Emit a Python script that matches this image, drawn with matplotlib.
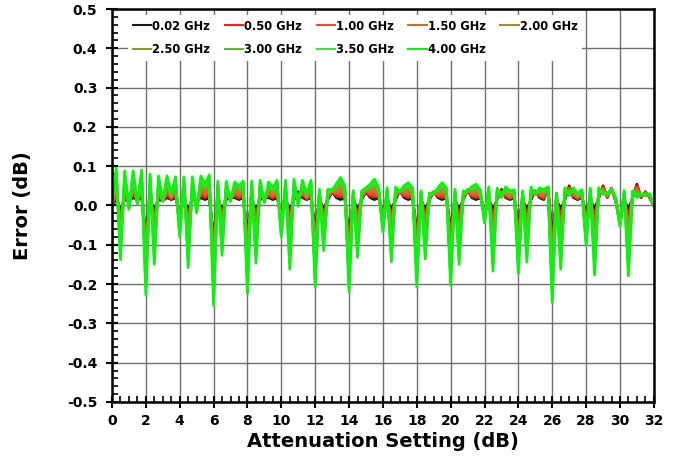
import numpy as np
import matplotlib
matplotlib.use("Agg")
import matplotlib.pyplot as plt
from matplotlib.ticker import MultipleLocator, FormatStrFormatter

plt.rcParams['font.family'] = ['DejaVu Sans']
plt.rcParams['font.weight'] = 'bold'
plt.rcParams['axes.unicode_minus'] = False

# attenuation states, 0.25 dB LSB
atten = np.linspace(0, 32, 129)

# attenuation error per state, in millidB
err_002 = [0, 15, -10, 15, 12, 20, 15, 20,
           -70, 15, -10, 15, 12, 20, 15, 20,
           -20, 15, -10, 15, 12, 20, 15, 20,
           -80, 15, -10, 15, 20, 20, 15, 20,
           -70, 15, -10, 15, 20, 20, 15, 20,
           -20, 15, -10, 15, 35, 20, 15, 20,
           -60, 15, -10, 15, 35, 20, 15, 20,
           -80, 15, -10, 15, 35, 20, 15, 20,
           -19, 15, -10, 15, 38, 20, 15, 20,
           -66, 15, -10, 15, 35, 20, 15, 20,
           -60, 15, -10, 15, 40, 20, 15, 20,
           -10, 15, -10, 15, 41, 20, 15, 20,
           -50, 15, -10, 15, 37, 20, 15, 45,
           -80, 15, -10, 15, 50, 20, 15, 20,
           -20, 15, -10, 20, 50, 20, 44, 10,
           -40, 15, -10, 20, 54, 20, 35, 20,
           0]
err_050 = [1, 25, -26, 24, 9, 29, 14, 29,
           -90, 23, -28, 23, 12, 27, 17, 27,
           -28, 22, -29, 22, 8, 27, 20, 27,
           -102, 21, -25, 21, 19, 25, 19, 25,
           -89, 21, -27, 21, 18, 25, 19, 26,
           -28, 21, -29, 22, 30, 26, 17, 26,
           -78, 18, -23, 18, 36, 24, 22, 24,
           -98, 18, -25, 18, 36, 24, 22, 23,
           -25, 19, -27, 19, 38, 24, 20, 23,
           -84, 18, -26, 17, 34, 23, 20, 23,
           -78, 18, -28, 18, 39, 24, 20, 23,
           -14, 19, -30, 19, 38, 23, 18, 23,
           -65, 18, -27, 19, 36, 23, 18, 45,
           -101, 17, -29, 19, 47, 23, 17, 23,
           -30, 19, -31, 23, 47, 21, 44, 11,
           -42, 18, -31, 22, 50, 21, 34, 21,
           0]
err_100 = [1, 35, -42, 33, 7, 37, 12, 38,
           -110, 31, -45, 30, 12, 34, 19, 33,
           -35, 30, -47, 30, 4, 34, 25, 35,
           -124, 27, -39, 27, 18, 30, 24, 31,
           -109, 27, -44, 27, 17, 30, 23, 31,
           -35, 27, -48, 28, 26, 31, 19, 31,
           -97, 22, -36, 22, 36, 29, 29, 28,
           -115, 21, -41, 21, 38, 29, 28, 26,
           -31, 23, -43, 23, 37, 28, 26, 26,
           -101, 21, -42, 19, 34, 26, 26, 26,
           -96, 22, -45, 21, 39, 27, 25, 25,
           -19, 23, -49, 22, 36, 27, 21, 25,
           -81, 21, -44, 23, 35, 26, 21, 45,
           -122, 19, -48, 23, 44, 26, 19, 25,
           -41, 22, -52, 26, 45, 23, 43, 13,
           -43, 21, -52, 24, 46, 23, 33, 23,
           0]
err_150 = [2, 45, -58, 42, 4, 46, 11, 46,
           -129, 39, -63, 38, 12, 41, 21, 40,
           -43, 37, -66, 37, 0, 41, 30, 42,
           -146, 33, -54, 33, 16, 35, 28, 36,
           -128, 33, -61, 33, 15, 35, 26, 37,
           -43, 33, -67, 35, 21, 37, 21, 37,
           -115, 25, -49, 25, 37, 33, 36, 31,
           -133, 24, -56, 23, 39, 33, 35, 29,
           -37, 26, -60, 27, 37, 31, 31, 29,
           -119, 23, -57, 21, 33, 29, 31, 29,
           -114, 25, -63, 23, 38, 31, 30, 28,
           -23, 27, -69, 26, 33, 30, 23, 28,
           -96, 23, -60, 27, 34, 29, 24, 46,
           -143, 21, -67, 26, 41, 29, 21, 28,
           -51, 26, -73, 29, 42, 24, 43, 14,
           -45, 24, -73, 26, 41, 24, 31, 24,
           0]
err_200 = [3, 55, -74, 52, 1, 54, 9, 55,
           -149, 48, -80, 45, 12, 48, 23, 47,
           -51, 44, -84, 44, -4, 48, 35, 49,
           -168, 39, -69, 39, 15, 40, 33, 41,
           -147, 39, -79, 40, 14, 40, 30, 42,
           -51, 40, -86, 41, 17, 42, 23, 42,
           -134, 28, -63, 28, 38, 38, 43, 35,
           -151, 27, -71, 26, 40, 37, 41, 33,
           -44, 30, -77, 31, 37, 35, 37, 33,
           -137, 26, -73, 24, 33, 33, 37, 33,
           -132, 28, -80, 26, 38, 34, 35, 30,
           -27, 31, -89, 30, 31, 34, 26, 30,
           -112, 26, -77, 31, 33, 33, 28, 46,
           -164, 24, -86, 30, 38, 33, 23, 30,
           -61, 30, -94, 33, 39, 25, 42, 15,
           -47, 27, -95, 29, 37, 25, 30, 25,
           0]
err_250 = [3, 65, -90, 61, -2, 63, 8, 64,
           -169, 56, -98, 53, 11, 54, 24, 53,
           -58, 51, -103, 51, -7, 54, 39, 56,
           -189, 44, -83, 44, 14, 45, 37, 46,
           -166, 44, -96, 46, 12, 45, 34, 48,
           -58, 46, -105, 48, 12, 48, 24, 48,
           -152, 31, -76, 31, 38, 42, 50, 39,
           -168, 29, -86, 29, 41, 41, 48, 36,
           -50, 34, -93, 35, 36, 39, 42, 36,
           -154, 29, -89, 26, 32, 36, 42, 36,
           -149, 31, -98, 29, 37, 38, 39, 33,
           -31, 35, -108, 33, 28, 37, 29, 33,
           -127, 29, -94, 35, 31, 36, 31, 46,
           -184, 26, -105, 34, 34, 36, 24, 33,
           -71, 33, -114, 36, 36, 26, 42, 16,
           -48, 29, -116, 31, 33, 26, 29, 26,
           0]
err_300 = [4, 75, -106, 70, -5, 71, 6, 73,
           -189, 64, -115, 60, 11, 61, 26, 60,
           -66, 59, -121, 59, -11, 61, 44, 64,
           -211, 50, -98, 50, 13, 50, 41, 52,
           -186, 50, -113, 52, 10, 50, 38, 53,
           -66, 52, -124, 54, 7, 53, 26, 53,
           -170, 35, -89, 35, 39, 46, 57, 43,
           -186, 32, -102, 32, 43, 46, 54, 39,
           -56, 38, -110, 39, 36, 43, 47, 39,
           -172, 32, -105, 28, 31, 39, 47, 39,
           -167, 35, -115, 32, 36, 41, 44, 35,
           -36, 39, -128, 37, 25, 40, 32, 35,
           -142, 32, -111, 39, 30, 39, 34, 46,
           -205, 28, -124, 38, 31, 39, 26, 35,
           -82, 37, -135, 39, 34, 28, 41, 18,
           -50, 32, -137, 33, 29, 28, 28, 28,
           0]
err_350 = [4, 85, -122, 79, -7, 80, 5, 81,
           -208, 72, -133, 68, 11, 68, 28, 66,
           -73, 66, -140, 66, -15, 68, 49, 71,
           -233, 56, -112, 56, 11, 55, 46, 57,
           -205, 56, -130, 58, 9, 55, 41, 59,
           -73, 58, -143, 61, 3, 59, 28, 59,
           -189, 38, -102, 38, 39, 51, 64, 46,
           -203, 35, -117, 34, 44, 50, 61, 42,
           -62, 41, -126, 43, 35, 46, 53, 42,
           -189, 34, -120, 30, 31, 42, 53, 42,
           -185, 38, -133, 34, 36, 45, 49, 38,
           -40, 43, -147, 40, 23, 44, 34, 38,
           -158, 34, -127, 43, 29, 42, 37, 47,
           -226, 30, -143, 41, 28, 42, 28, 38,
           -92, 40, -156, 42, 31, 29, 41, 19,
           -51, 35, -158, 35, 24, 29, 26, 29,
           0]
err_400 = [5, 95, -138, 88, -10, 88, 3, 90,
           -228, 80, -150, 75, 11, 75, 30, 73,
           -81, 73, -158, 73, -19, 75, 54, 78,
           -255, 62, -127, 62, 10, 60, 50, 62,
           -224, 62, -147, 64, 7, 60, 45, 64,
           -81, 64, -162, 67, -2, 64, 30, 64,
           -207, 41, -115, 41, 40, 55, 71, 50,
           -221, 38, -132, 37, 45, 54, 67, 45,
           -68, 45, -143, 47, 35, 50, 58, 45,
           -207, 37, -136, 32, 30, 45, 58, 45,
           -203, 41, -150, 37, 35, 48, 54, 40,
           -44, 47, -167, 44, 20, 47, 37, 40,
           -173, 37, -144, 47, 28, 45, 40, 47,
           -247, 32, -162, 45, 25, 45, 30, 40,
           -102, 44, -177, 45, 28, 30, 40, 20,
           -53, 38, -179, 37, 20, 30, 25, 30,
           0]

freq_labels = ['0.02 GHz', '0.50 GHz', '1.00 GHz', '1.50 GHz', '2.00 GHz',
               '2.50 GHz', '3.00 GHz', '3.50 GHz', '4.00 GHz']
series = [err_002, err_050, err_100, err_150, err_200,
          err_250, err_300, err_350, err_400]
colors = ['#1a1a1a', '#ff1a1a', '#f04a22', '#cf6d2c', '#ad8a26',
          '#8f9e26', '#68b82e', '#3ee43a', '#10f010']

fig = plt.figure(figsize=(6.85, 4.62), dpi=100)
ax = fig.add_axes([0.1635, 0.13, 0.791, 0.8505])

lines = []
for vals, lab, c in zip(series, freq_labels, colors):
    ln, = ax.plot(atten, np.array(vals) / 1000.0, color=c, lw=2.0, label=lab,
                  solid_joinstyle='round')
    lines.append(ln)

ax.set_xlim(0, 32)
ax.set_ylim(-0.5, 0.5)
ax.xaxis.set_major_locator(MultipleLocator(2))
ax.xaxis.set_minor_locator(MultipleLocator(0.5))
ax.yaxis.set_major_locator(MultipleLocator(0.1))
ax.yaxis.set_minor_locator(MultipleLocator(0.02))
ax.yaxis.set_major_formatter(FormatStrFormatter('%.1f'))

ax.grid(True, which='major', color='#707070', lw=1.0)
ax.set_axisbelow(True)
ax.tick_params(which='major', direction='inout', length=9, width=1.5,
               labelsize=10, pad=4)
ax.tick_params(axis='y', which='major', pad=6)
ax.tick_params(which='minor', direction='in', length=4, width=1.2)
for s in ax.spines.values():
    s.set_linewidth(1.8)

ax.set_xlabel('Attenuation Setting (dB)', fontsize=14, fontweight='bold',
              labelpad=3)
ax.set_ylabel('Error (dB)', fontsize=14, fontweight='bold', labelpad=25)

# legend filled row by row, five entries per row
order = [0, 5, 1, 6, 2, 7, 3, 8, 4]
leg = ax.legend([lines[i] for i in order], [freq_labels[i] for i in order],
                ncol=5, loc='upper left', bbox_to_anchor=(0.03, 0.985),
                borderaxespad=0, frameon=True, fancybox=False, framealpha=1,
                edgecolor='none', prop={'size': 8.3, 'weight': 'bold'},
                handlelength=1.6, handletextpad=0.1, columnspacing=1.25,
                labelspacing=0.9, borderpad=0.4)
for line in leg.get_lines():
    line.set_linewidth(1.5)

fig.savefig('out.png', dpi=100)
